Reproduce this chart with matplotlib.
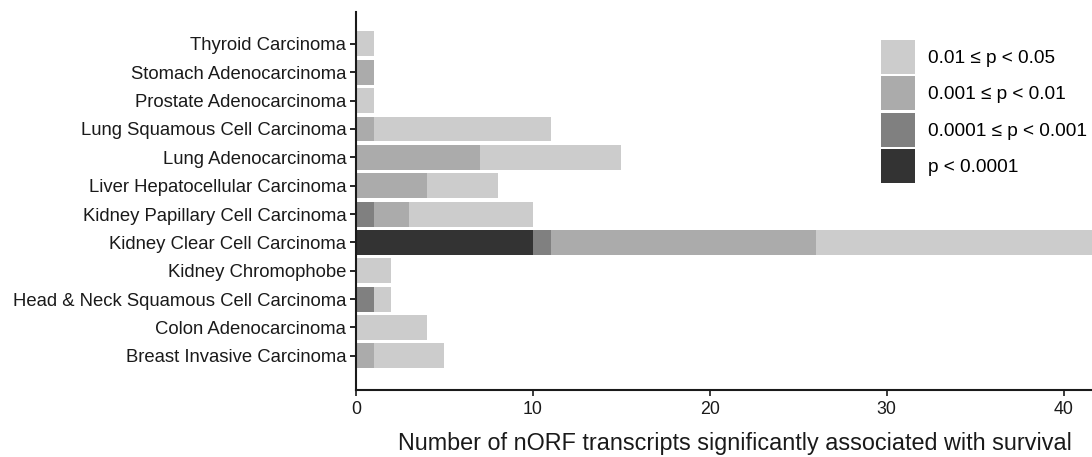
import numpy as np
import matplotlib
matplotlib.use("Agg")
import matplotlib.pyplot as plt
from matplotlib.patches import Patch

plt.rcParams['font.family'] = ['Liberation Sans', 'DejaVu Sans']

cancers = ['Breast Invasive Carcinoma', 'Colon Adenocarcinoma',
           'Head & Neck Squamous Cell Carcinoma', 'Kidney Chromophobe',
           'Kidney Clear Cell Carcinoma', 'Kidney Papillary Cell Carcinoma',
           'Liver Hepatocellular Carcinoma', 'Lung Adenocarcinoma',
           'Lung Squamous Cell Carcinoma', 'Prostate Adenocarcinoma',
           'Stomach Adenocarcinoma', 'Thyroid Carcinoma']

# counts per significance band, same order as cancers
p_lt_00001 = [0, 0, 0, 0, 10, 0, 0, 0, 0, 0, 0, 0]
p_00001_0001 = [0, 0, 1, 0, 1, 1, 0, 0, 0, 0, 0, 0]
p_0001_001 = [1, 0, 0, 0, 15, 2, 4, 7, 1, 0, 1, 0]
p_001_005 = [4, 4, 1, 2, 18, 7, 4, 8, 10, 1, 0, 1]

bands = [p_lt_00001, p_00001_0001, p_0001_001, p_001_005]
labels = ['p < 0.0001', '0.0001 \u2264 p < 0.001', '0.001 \u2264 p < 0.01', '0.01 \u2264 p < 0.05']
colors = ['#333333', '#808080', '#ababab', '#cccccc']

fig = plt.figure(figsize=(10.92, 4.57), dpi=100)
ax = fig.add_axes([0.326, 0.147, 0.674, 0.827])

y = np.arange(len(cancers))
left = np.zeros(len(cancers))
for vals, col in zip(bands, colors):
    vals = np.array(vals, dtype=float)
    ax.barh(y, vals, left=left, height=0.88, color=col, linewidth=0)
    left += vals

ax.set_xlim(0, 41.6)
ax.set_ylim(-1.2, 12.13)
ax.set_yticks(y)
ax.set_yticklabels(cancers, fontsize=13.3, color='#1a1a1a')
ax.set_xticks([0, 10, 20, 30, 40])
ax.tick_params(axis='x', labelsize=12.8, length=4, width=1.2, colors='#1a1a1a', pad=4)
ax.tick_params(axis='y', length=4, width=1.2, pad=3)
ax.set_xlabel('Number of nORF transcripts significantly associated with survival',
              fontsize=16.8, labelpad=10, color='#1a1a1a')
ax.xaxis.label.set_x(0.515)

for s in ['top', 'right']:
    ax.spines[s].set_visible(False)
for s in ['left', 'bottom']:
    ax.spines[s].set_linewidth(1.5)
    ax.spines[s].set_color('#1a1a1a')

handles = [Patch(facecolor=c, edgecolor='none') for c in colors[::-1]]
fig.legend(handles, labels[::-1], loc='upper left', bbox_to_anchor=(0.807, 0.912),
           frameon=False, fontsize=13.7, handlelength=1.8, handleheight=2.37,
           labelspacing=0.12, handletextpad=0.66, borderpad=0, borderaxespad=0)

fig.savefig('out.png', dpi=100, facecolor='white')
